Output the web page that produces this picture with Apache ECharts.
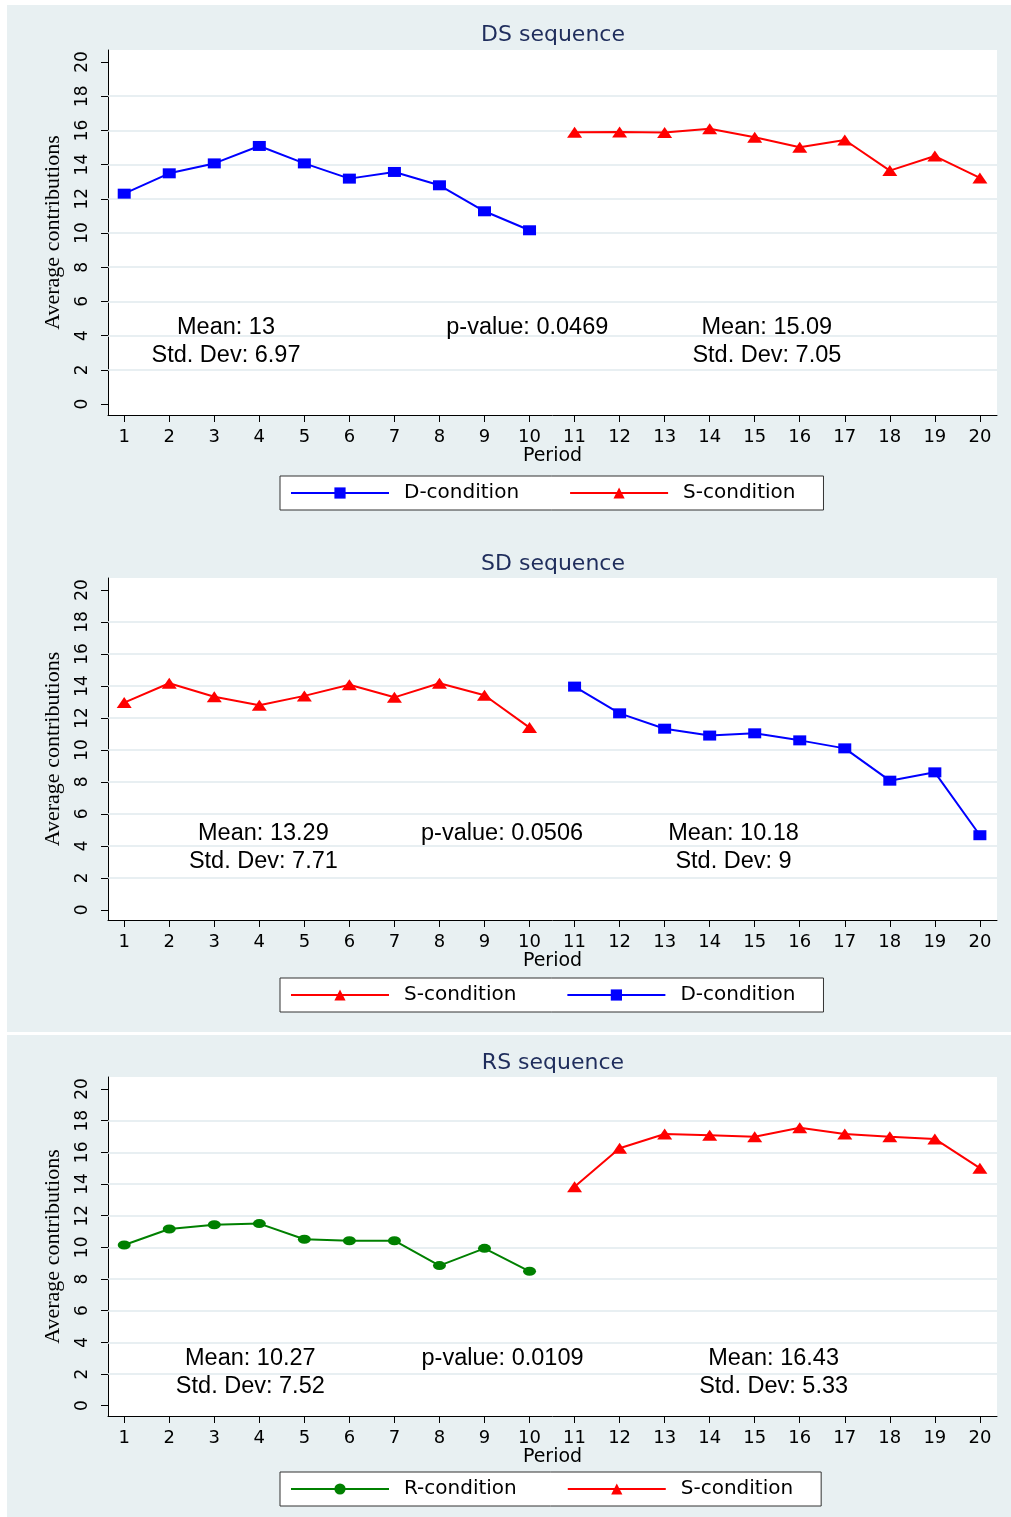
<!DOCTYPE html>
<html>
<head>
<meta charset="utf-8">
<script src="https://cdn.jsdelivr.net/npm/echarts@6/dist/echarts.min.js"></script>
<style>
  html, body { margin: 0; background: #fff; }
  #chart { width: 1011px; height: 1517px; }
</style>
</head>
<body>
<div id="chart"></div>
<script>
// periods 1-10 and 11-20
const firstHalf = [1, 2, 3, 4, 5, 6, 7, 8, 9, 10];
const secondHalf = [11, 12, 13, 14, 15, 16, 17, 18, 19, 20];

// DS sequence
const dsD = [12.3, 13.49, 14.07, 15.09, 14.07, 13.18, 13.57, 12.79, 11.27, 10.16];
const dsS = [15.89, 15.91, 15.87, 16.1, 15.6, 15.01, 15.44, 13.65, 14.5, 13.22];
// SD sequence
const sdS = [12.96, 14.17, 13.33, 12.79, 13.38, 14.08, 13.29, 14.17, 13.42, 11.4];
const sdD = [13.96, 12.29, 11.33, 10.9, 11.04, 10.6, 10.1, 8.08, 8.6, 4.67];
// RS sequence
const rsR = [10.15, 11.16, 11.43, 11.5, 10.51, 10.42, 10.42, 8.85, 9.94, 8.49];
const rsS = [13.83, 16.26, 17.16, 17.08, 16.99, 17.56, 17.16, 16.99, 16.85, 15.0];

const xTicks = [1, 2, 3, 4, 5, 6, 7, 8, 9, 10, 11, 12, 13, 14, 15, 16, 17, 18, 19, 20];
const yTicks = [0, 2, 4, 6, 8, 10, 12, 14, 16, 18, 20];
const yGridLines = [2, 4, 6, 8, 10, 12, 14, 16, 18];

const panelTitles = ['DS sequence', 'SD sequence', 'RS sequence'];

// text notes: [period, value, text]
const dsNotes = [[3.26, 3.63, 'Mean: 13\nStd. Dev: 6.97'], [9.95, 4.5, 'p-value: 0.0469'], [15.27, 3.63, 'Mean: 15.09\nStd. Dev: 7.05']];
const sdNotes = [[4.09, 3.88, 'Mean: 13.29\nStd. Dev: 7.71'], [9.39, 4.75, 'p-value: 0.0506'], [14.53, 3.88, 'Mean: 10.18\nStd. Dev: 9']];
const rsNotes = [[3.8, 2.1, 'Mean: 10.27\nStd. Dev: 7.52'], [9.4, 3.01, 'p-value: 0.0109'], [15.42, 2.1, 'Mean: 16.43\nStd. Dev: 5.33']];

const BG = '#e8f0f2';
const TICK_FONT = 'DejaVu Sans';

// grid boxes (pixels) and y ranges per panel
const panels = [
  { top: 50, height: 365, ymin: -0.64, ymax: 20.7, titleTop: 24, legendTop: 476 },
  { top: 578, height: 342, ymin: -0.63, ymax: 20.75, titleTop: 553, legendTop: 978 },
  { top: 1077, height: 339, ymin: -0.65, ymax: 20.76, titleTop: 1052, legendTop: 1472 }
];

const pairs = (xs, ys) => xs.map((x, i) => [x, ys[i]]);

function lineSeries(name, idx, xs, ys, color, symbol, size) {
  return {
    type: 'line', name: name, xAxisIndex: idx, yAxisIndex: idx,
    data: pairs(xs, ys), z: 3,
    symbol: symbol, symbolSize: size, showSymbol: true,
    lineStyle: { color: color, width: 2 },
    itemStyle: { color: color },
    emphasis: { disabled: true }
  };
}

function noteSeries(idx, notes) {
  return {
    type: 'scatter', xAxisIndex: idx, yAxisIndex: idx, z: 4, silent: true,
    symbolSize: 2, itemStyle: { color: 'rgba(0,0,0,0)', opacity: 1 },
    data: notes.map(n => ({ value: [n[0], n[1]], label: { formatter: n[2] } })),
    label: {
      show: true, position: 'inside', align: 'center', verticalAlign: 'middle',
      fontFamily: 'Liberation Sans', fontSize: 23.5, lineHeight: 28, color: '#000',
      opacity: 1, textBorderWidth: 0
    },
    labelLayout: { hideOverlap: false }
  };
}

function gridLineSeries(idx) {
  return {
    type: 'line', xAxisIndex: idx, yAxisIndex: idx, data: [], z: 1,
    markLine: {
      z: 1, silent: true, symbol: 'none', label: { show: false },
      lineStyle: { color: '#e1eaee', width: 1.5, type: 'solid' },
      data: yGridLines.map(v => ({ yAxis: v }))
    }
  };
}

const option = {
  animation: false,
  backgroundColor: '#fff',
  graphic: [
    { type: 'rect', z: -10, shape: { x: 7, y: 5, width: 1004, height: 1027 }, style: { fill: BG } },
    { type: 'rect', z: -10, shape: { x: 7, y: 1035, width: 1004, height: 482 }, style: { fill: BG } }
  ],
  title: panelTitles.map((t, i) => ({
    text: t, left: 553, top: panels[i].titleTop, textAlign: 'center', padding: 0,
    textStyle: { fontFamily: TICK_FONT, fontSize: 22, fontWeight: 'normal', color: '#1f2d5c' }
  })),
  grid: panels.map(p => ({
    left: 108, top: p.top, width: 889, height: p.height,
    show: true, backgroundColor: '#fff', borderWidth: 0
  })),
  xAxis: panels.map((p, i) => ({
    gridIndex: i, type: 'value', min: 0.64, max: 20.38,
    splitLine: { show: false },
    axisLine: { show: true, onZero: false, lineStyle: { color: '#000', width: 1 } },
    axisTick: { show: true, customValues: xTicks, length: 7, lineStyle: { color: '#000' } },
    axisLabel: { customValues: xTicks, margin: 13, color: '#000', fontFamily: TICK_FONT, fontSize: 18 },
    name: 'Period', nameLocation: 'middle', nameGap: 30,
    nameTextStyle: { fontFamily: TICK_FONT, fontSize: 19, color: '#000', verticalAlign: 'top' }
  })),
  yAxis: panels.map((p, i) => ({
    gridIndex: i, type: 'value', min: p.ymin, max: p.ymax,
    splitLine: { show: false },
    axisLine: { show: true, onZero: false, lineStyle: { color: '#000', width: 1 } },
    axisTick: { show: true, customValues: yTicks, length: 7, lineStyle: { color: '#000' } },
    axisLabel: { customValues: yTicks, rotate: 90, margin: 17, color: '#000', fontFamily: TICK_FONT, fontSize: 17 },
    name: 'Average contributions', nameLocation: 'middle', nameGap: 44,
    nameTextStyle: { fontFamily: 'Liberation Sans Narrow', fontSize: 22, color: '#000' }
  })),
  legend: [
    ['D-condition', 'S-condition'],
    ['S-condition', 'D-condition'],
    ['R-condition', 'S-condition']
  ].map((names, i) => ({
    data: names, left: 280, top: panels[i].legendTop, orient: 'horizontal',
    selectedMode: false, itemWidth: 98, itemHeight: 14, itemGap: 50,
    padding: [7, 28, 7, 10], backgroundColor: '#fff', borderColor: '#333', borderWidth: 1,
    textStyle: { fontFamily: TICK_FONT, fontSize: 20, color: '#000', padding: [0, 0, 0, 10] }
  })),
  series: [
    gridLineSeries(0), gridLineSeries(1), gridLineSeries(2),
    lineSeries('D-condition', 0, firstHalf, dsD, '#0000ff', 'rect', [13, 10]),
    lineSeries('S-condition', 0, secondHalf, dsS, '#ff0000', 'triangle', [15, 11]),
    lineSeries('S-condition', 1, firstHalf, sdS, '#ff0000', 'triangle', [15, 11]),
    lineSeries('D-condition', 1, secondHalf, sdD, '#0000ff', 'rect', [13, 10]),
    lineSeries('R-condition', 2, firstHalf, rsR, '#008000', 'circle', [13, 9]),
    lineSeries('S-condition', 2, secondHalf, rsS, '#ff0000', 'triangle', [15, 11]),
    noteSeries(0, dsNotes), noteSeries(1, sdNotes), noteSeries(2, rsNotes)
  ]
};

const chart = echarts.init(document.getElementById('chart'));
chart.setOption(option);
</script>
</body>
</html>
